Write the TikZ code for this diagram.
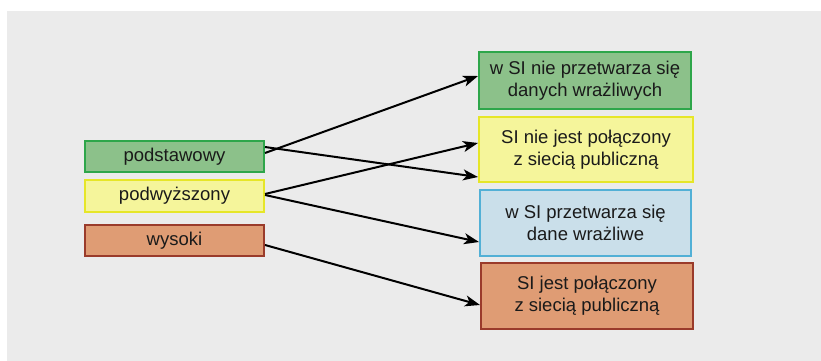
\documentclass[tikz,border=0pt]{standalone}
\usepackage{fontspec}
\setmainfont{Liberation Sans}
\usetikzlibrary{arrows.meta}

\definecolor{bgpanel}{HTML}{EBEBEB}
\definecolor{txt}{HTML}{1A1A1A}
\definecolor{grfill}{HTML}{8CC18A}
\definecolor{grline}{HTML}{2EA64A}
\definecolor{yefill}{HTML}{F5F59B}
\definecolor{yeline}{HTML}{E6E628}
\definecolor{orfill}{HTML}{DF9C74}
\definecolor{orline}{HTML}{9A3B2B}
\definecolor{blfill}{HTML}{CADFEA}
\definecolor{blline}{HTML}{52B0D6}

\tikzset{
  levelbox/.style={rectangle, draw, line width=2pt, inner sep=0pt,
    minimum width=179pt, minimum height=31pt, text=txt,
    font=\fontsize{18.5}{22}\selectfont},
  factbox/.style={rectangle, draw, line width=2pt, inner sep=0pt,
    minimum width=212pt, minimum height=62pt, text=txt, align=center,
    font=\fontsize{18.5}{22}\selectfont},
  arr/.style={line width=2pt, black,
    -{Stealth[length=15pt, width=11pt, inset=4pt]}},
}

\begin{document}
\begin{tikzpicture}[x=1pt, y=-1pt]
  \useasboundingbox[fill=white] (0,0) rectangle (821,361);
  \fill[bgpanel] (7,11) rectangle (821,361);

  % security levels
  \node[levelbox, fill=grfill, draw=grline] (pod)  at (174.5,156.5) {podstawowy};
  \node[levelbox, fill=yefill, draw=yeline, minimum height=32pt] (podw) at (174.5,196) {podwyższony};
  \node[levelbox, fill=orfill, draw=orline] (wys)  at (174.5,240.5) {wysoki};

  % conditions
  \node[factbox, fill=grfill, draw=grline, minimum height=57pt] (nowr) at (585,80.5)
    {w SI nie przetwarza się\\danych wrażliwych};
  \node[factbox, fill=yefill, draw=yeline, minimum width=214pt, minimum height=65pt] (nopub) at (586,149.5)
    {SI nie jest połączony\\z siecią publiczną};
  \node[factbox, fill=blfill, draw=blline, minimum width=211pt, minimum height=66pt] (wr) at (585.5,223)
    {w SI przetwarza się\\dane wrażliwe};
  \node[factbox, fill=orfill, draw=orline, minimum height=66pt] (pub) at (587,296)
    {SI jest połączony\\z siecią publiczną};

  % links
  \draw[arr] ([yshift=3.5pt]pod.east) -- ([yshift=4.5pt]nowr.west);
  \draw[arr] ([yshift=9.5pt]pod.east) -- ([yshift=-27.5pt]nopub.west);
  \draw[arr] ([yshift=2pt]podw.east) -- ([yshift=6.5pt]nopub.west);
  \draw[arr] ([yshift=1pt]podw.east) -- ([yshift=-19pt]wr.west);
  \draw[arr] ([yshift=-4.5pt]wys.east) -- ([yshift=-9pt]pub.west);
\end{tikzpicture}
\end{document}
